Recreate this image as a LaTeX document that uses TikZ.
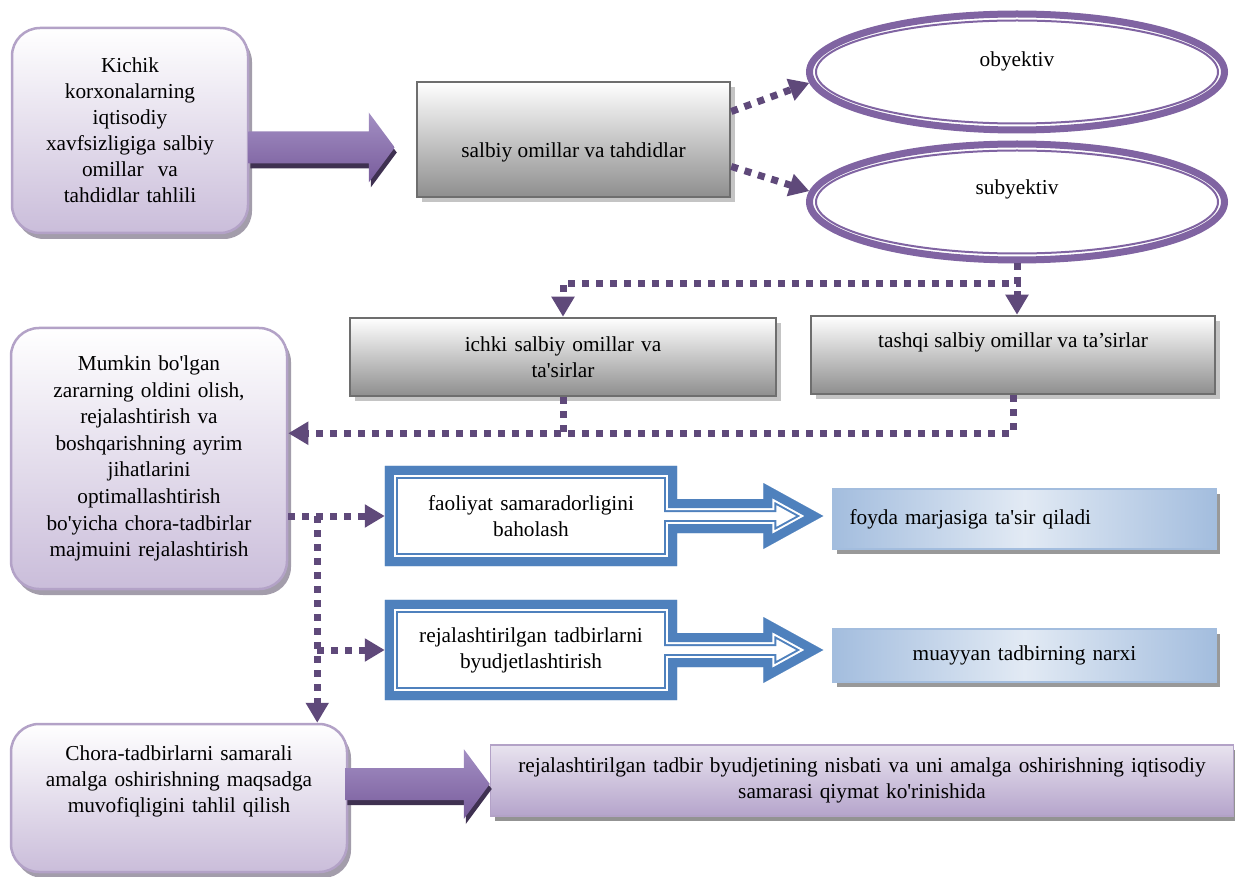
\documentclass[tikz,border=0pt]{standalone}
\usepackage{fontspec}
\setmainfont{Liberation Serif}[Ligatures=TeXOff]
\usetikzlibrary{shapes.geometric,arrows.meta,positioning,calc,shadows}
\definecolor{ringpurple}{HTML}{8064A2}
\definecolor{dotpurple}{HTML}{5F497A}
\definecolor{lavline}{HTML}{B3A2C7}
\definecolor{lavfill}{HTML}{CABDDA}
\definecolor{lavshadow}{HTML}{A39DAB}
\definecolor{lilactop}{HTML}{E8E3EF}
\definecolor{lilacbot}{HTML}{B5A4CB}
\definecolor{boxblue}{HTML}{4F81BD}
\definecolor{paleblue}{HTML}{E2EAF4}
\definecolor{edgeblue}{HTML}{A3BDDE}
\definecolor{greyline}{HTML}{6E6E6E}
\definecolor{greyfill}{HTML}{8E8E8E}
\definecolor{greyshadow}{HTML}{C4C4C4}
\definecolor{arrowtop}{HTML}{A38FC3}
\definecolor{arrowbot}{HTML}{785C9C}
\definecolor{arrowdark}{HTML}{3F3151}
\tikzset
{
    lavbox/.style   = {rectangle, rounded corners=28, draw=lavline, line width=2.5pt, top color=white, bottom color=lavfill, align=center,
                       drop shadow={shadow xshift=4pt, shadow yshift=-6pt, fill=lavshadow, opacity=1}},
    greybox/.style  = {rectangle, draw=greyline, line width=2.5pt, top color=white, bottom color=greyfill, align=center,
                       drop shadow={shadow xshift=5pt, shadow yshift=-5pt, fill=greyshadow, opacity=1}},
    palebox/.style  = {rectangle, draw=edgeblue, line width=1.5pt, left color=edgeblue, right color=edgeblue, middle color=paleblue,
                       drop shadow={shadow xshift=4pt, shadow yshift=-5pt, fill=gray!80, opacity=1}},
    lilacbox/.style = {rectangle, draw=lavline, line width=1.5pt, top color=lilactop, bottom color=lilacbot, align=center,
                       drop shadow={shadow xshift=4pt, shadow yshift=-5pt, fill=gray!85, opacity=1}},
    ringnode/.style = {ellipse, draw=ringpurple, line width=7pt, fill=white, minimum width=415, minimum height=116, inner sep=0pt, text height=15pt},
    dotline/.style  = {draw=dotpurple, line width=7pt, dash pattern=on 7pt off 7pt},
    dotarrow/.style = {dotline, -{Triangle[length=20pt,width=22pt]}},
    fatarrow/.style = {top color=arrowtop, bottom color=arrowbot}
}
% outline of a box with an arrow attached on its right side
\newcommand{\calloutpath}[2]{(#1.north west) -- (#1.north east) -- ($(#1.east)+(0,-17)$) -- ($(#2)+(-60,-17)$) -- ($(#2)+(-60,-33)$) -- (#2)
  -- ($(#2)+(-60,33)$) -- ($(#2)+(-60,17)$) -- ($(#1.east)+(0,17)$) -- (#1.south east) -- (#1.south west) -- cycle}
\newcommand{\fatarrow}[2]{($(#1)+(0,-16)$) -- ($(#2)+(-26,-16)$) -- ($(#2)+(-26,-35)$) -- (#2) -- ($(#2)+(-26,35)$) -- ($(#2)+(-26,16)$) -- ($(#1)+(0,16)$) -- cycle}

\begin{document}
\begin{tikzpicture}[x=1pt, y=-1pt, every node/.style={font=\fontsize{21.3}{26}\selectfont}]
    \useasboundingbox (0,0) rectangle (1235,877);

    \node [lavbox, minimum width=236, minimum height=205, text width=220] (kichik) at (130,130.5)
        {Kichik\\ korxonalarning\\ iqtisodiy\\ xavfsizligiga salbiy\\ omillar\ \ va\\ tahdidlar tahlili};
    \node [greybox, minimum width=313, minimum height=115, text height=42pt, text depth=5pt] (salbiy) at (573.5,139.5) {salbiy omillar va tahdidlar};
    \node [ringnode, text depth=25pt] (oby) at (1017,72) {obyektiv};
    \node [ringnode, text depth=29pt] (sub) at (1017,202) {subyektiv};
    \foreach \e in {oby,sub}
        \draw [ringpurple, line width=2pt] (\e.center) ellipse [x radius=201, y radius=51.5];

    \node [greybox, minimum width=426, minimum height=78, text width=400] (ichki) at (563,357) {ichki salbiy omillar va\\ ta'sirlar};
    \node [greybox, minimum width=404, minimum height=78, text height=15pt, text depth=29pt] (tashqi) at (1013,355) {tashqi salbiy omillar va ta’sirlar};

    \node [lavbox, minimum width=276, minimum height=261, text width=260, font=\fontsize{21.3}{26.6}\selectfont] (mumkin) at (149,458.5)
        {Mumkin bo'lgan\\ zararning oldini olish,\\ rejalashtirish va\\ boshqarishning ayrim\\ jihatlarini\\ optimallashtirish\\ bo'yicha chora-tadbirlar\\ majmuini rejalashtirish};

    \node [minimum width=292, minimum height=100, text width=270, align=center] (fao) at (531,516) {faoliyat samaradorligini\\ baholash};
    \node [minimum width=292, minimum height=100, text width=270, align=center] (rejb) at (531,650) {rejalashtirilgan tadbirlarni\\ byudjetlashtirish};
    \node [palebox, minimum width=383, minimum height=60, text width=350, align=left] (foyda) at (1024.5,519) {foyda marjasiga ta'sir qiladi};
    \node [palebox, minimum width=383, minimum height=53, text width=350, align=center] (muay) at (1024.5,655.5) {muayyan tadbirning narxi};

    \node [lavbox, minimum width=336, minimum height=148, text width=310, text depth=90pt] (chora) at (179,798)
        {Chora-tadbirlarni samarali\\ amalga oshirishning maqsadga\\ muvofiqligini tahlil qilish};
    \node [lilacbox, minimum width=743, minimum height=71, text width=720] (rejal) at (862,780.5)
        {rejalashtirilgan tadbir byudjetining nisbati va uni amalga oshirishning iqtisodiy\\ samarasi qiymat ko'rinishida};

    % big arrows
    \coordinate (kichik-out) at ($(kichik.east)+(-1,17)$);
    \coordinate (salbiy-in) at ($(kichik-out -| salbiy.west)+(-21,0)$);
    \coordinate (chora-out) at ($(chora.east)+(-3,-14)$);
    \coordinate (rejal-in) at (chora-out -| rejal.west);
    \fill [arrowdark, transform canvas={shift={(2pt,-5pt)}}] \fatarrow{kichik-out}{salbiy-in};
    \path [fatarrow] \fatarrow{kichik-out}{salbiy-in};
    \fill [arrowdark, transform canvas={shift={(2pt,-5pt)}}] \fatarrow{chora-out}{rejal-in};
    \path [fatarrow] \fatarrow{chora-out}{rejal-in};

    % blue boxes with arrows
    \coordinate (fao-tip) at ($(fao.east -| foyda.west)+(-9,0)$);
    \coordinate (rejb-tip) at ($(rejb.east -| muay.west)+(-9,0)$);
    \foreach \b in {fao,rejb}
    {
        \begin{scope}
            \clip \calloutpath{\b}{\b-tip};
            \draw [boxblue, line width=26pt] \calloutpath{\b}{\b-tip};
            \draw [white, line width=22pt] \calloutpath{\b}{\b-tip};
            \draw [boxblue, line width=18pt] \calloutpath{\b}{\b-tip};
        \end{scope}
    }

    % dotted connectors
    \draw [dotarrow] ([yshift=28pt]salbiy.east) -- (oby.183);
    \draw [dotarrow] ([yshift=-27pt]salbiy.east) -- (sub.177);
    \draw [dotarrow] (sub.south) -- (sub.south |- tashqi.north);
    \draw [dotarrow] (sub.south) -- ++(0,20) -| (ichki.north);
    \draw [dotline] (ichki.south) -- ++(0,36) coordinate (bus);
    \draw [dotarrow] (tashqi.south) |- (mumkin.east |- bus);
    \draw [dotarrow] (mumkin.east |- fao.west) -- (fao.west);
    \coordinate (tap) at ($(mumkin.east |- fao.west)+(29,0)$);
    \draw [dotarrow] (tap) -- (tap |- chora.north);
    \draw [dotarrow] (tap |- rejb.west) -- (rejb.west);
\end{tikzpicture}
\end{document}
